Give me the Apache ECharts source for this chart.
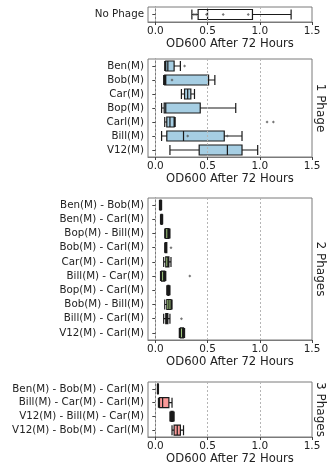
<!DOCTYPE html>
<html>
<head>
  <meta charset="UTF-8">
  <title>OD600 After 72 Hours</title>
  <script type="text/javascript" src="https://cdn.jsdelivr.net/npm/echarts@6/dist/echarts.min.js"></script>
  <style>
    html, body { margin: 0; padding: 0; background: #fff; }
  </style>
</head>
<body>
  <div id="main" style="width:327px;height:468px;"></div>
  <script>
    // values: [min, Q1, median, Q3, max]
    var xTicks = [0, 0.5, 1.0, 1.5];

    var noPhageCats = ['No Phage'];
    var noPhageBox = [[0.35, 0.41, 0.50, 0.93, 1.30]];
    var noPhagePts = [[0.37, 'No Phage'], [0.39, 'No Phage'], [0.49, 'No Phage'], [0.65, 'No Phage'], [0.89, 'No Phage']];

    var onePhageCats = ['Ben(M)', 'Bob(M)', 'Car(M)', 'Bop(M)', 'Carl(M)', 'Bill(M)', 'V12(M)'];
    var onePhageBox = [
      [0.09, 0.10, 0.12, 0.18, 0.24],
      [0.08, 0.09, 0.10, 0.51, 0.57],
      [0.25, 0.28, 0.31, 0.34, 0.375],
      [0.06, 0.085, 0.10, 0.43, 0.77],
      [0.09, 0.11, 0.14, 0.18, 0.19],
      [0.06, 0.11, 0.27, 0.66, 0.83],
      [0.14, 0.42, 0.69, 0.83, 0.98]
    ];
    var onePhageOut = [[0.28, 'Ben(M)'], [1.07, 'Carl(M)'], [1.13, 'Carl(M)']];
    var onePhagePts = [[0.16, 'Bob(M)'], [0.31, 'Bill(M)'], [0.69, 'Bill(M)']];

    var twoPhageCats = ['Ben(M) - Bob(M)', 'Ben(M) - Carl(M)', 'Bop(M) - Bill(M)', 'Bob(M) - Carl(M)',
      'Car(M) - Carl(M)', 'Bill(M) - Car(M)', 'Bop(M) - Carl(M)', 'Bob(M) - Bill(M)',
      'Bill(M) - Carl(M)', 'V12(M) - Carl(M)'];
    var twoPhageBox = [
      [0.04, 0.045, 0.05, 0.055, 0.06],
      [0.05, 0.055, 0.06, 0.065, 0.07],
      [0.09, 0.10, 0.12, 0.13, 0.14],
      [0.09, 0.095, 0.10, 0.11, 0.11],
      [0.08, 0.10, 0.12, 0.13, 0.15],
      [0.05, 0.06, 0.08, 0.09, 0.10],
      [0.11, 0.12, 0.125, 0.13, 0.14],
      [0.09, 0.11, 0.13, 0.15, 0.16],
      [0.08, 0.10, 0.11, 0.12, 0.14],
      [0.23, 0.24, 0.26, 0.27, 0.28]
    ];
    var twoPhageOut = [[0.15, 'Bob(M) - Carl(M)'], [0.33, 'Bill(M) - Car(M)'], [0.25, 'Bill(M) - Carl(M)']];

    var threePhageCats = ['Ben(M) - Bob(M) - Carl(M)', 'Bill(M) - Car(M) - Carl(M)',
      'V12(M) - Bill(M) - Car(M)', 'V12(M) - Bob(M) - Carl(M)'];
    var threePhageBox = [
      [0.02, 0.022, 0.025, 0.028, 0.03],
      [0.03, 0.04, 0.07, 0.13, 0.16],
      [0.14, 0.15, 0.16, 0.17, 0.18],
      [0.16, 0.18, 0.21, 0.24, 0.27]
    ];

    var panelLabels = ['1 Phage', '2 Phages', '3 Phages'];

    var font = 'DejaVu Sans';
    var grids = [
      { left: 148, right: 15, top: 7, height: 15 },
      { left: 148, right: 15, top: 59, height: 98 },
      { left: 148, right: 15, top: 198, height: 142 },
      { left: 148, right: 15, top: 382, height: 55 }
    ];
    grids.forEach(function (g) {
      g.show = true;
      g.borderColor = '#7a7a7a';
      g.borderWidth = 1;
      g.containLabel = false;
    });

    function xAxisFor(i) {
      return {
        type: 'value', gridIndex: i, min: -0.07, max: 1.5,
        name: 'OD600 After 72 Hours', nameLocation: 'middle', nameGap: 16,
        nameTextStyle: { fontFamily: font, fontSize: 11.6, color: '#222' },
        axisLine: { show: true, lineStyle: { color: '#7a7a7a' } },
        axisTick: { show: true, length: 3, customValues: xTicks, lineStyle: { color: '#444' } },
        axisLabel: {
          customValues: xTicks, margin: 4, fontFamily: font, fontSize: 10.5, color: '#222',
          formatter: function (v) { return v.toFixed(1); }
        },
        splitLine: { show: false }
      };
    }
    function yAxisFor(i, cats) {
      return {
        type: 'category', gridIndex: i, data: cats, inverse: true,
        axisLine: { show: true, lineStyle: { color: '#7a7a7a' } },
        axisTick: { show: true, length: 3, alignWithLabel: true, lineStyle: { color: '#444' } },
        axisLabel: { margin: 4, fontFamily: font, fontSize: 10.3, color: '#222', interval: 0 },
        splitLine: { show: false }
      };
    }

    function gridLines(i) {
      return {
        type: 'line', xAxisIndex: i, yAxisIndex: i, data: [], silent: true,
        markLine: {
          silent: true, symbol: 'none', label: { show: false },
          lineStyle: { color: '#b5b5b5', type: [2, 2], width: 1 },
          data: [{ xAxis: 0 }, { xAxis: 0.5 }, { xAxis: 1.0 }]
        }
      };
    }
    function boxSeries(i, data, fill) {
      return {
        type: 'boxplot', xAxisIndex: i, yAxisIndex: i, data: data, boxWidth: [10, 10],
        itemStyle: { color: fill, borderColor: '#1a1a1a', borderWidth: 1.2 }
      };
    }
    function dots(i, data, size) {
      return {
        type: 'scatter', xAxisIndex: i, yAxisIndex: i, data: data, symbol: 'diamond',
        symbolSize: size, itemStyle: { color: '#555' }, z: 5
      };
    }

    var graphic = panelLabels.map(function (t, k) {
      var g = grids[k + 1];
      return {
        type: 'text', x: 320, y: g.top + g.height / 2, rotation: -Math.PI / 2,
        style: { text: t, fontFamily: font, fontSize: 12, fill: '#222', align: 'center', verticalAlign: 'middle' }
      };
    });

    var myChart = echarts.init(document.getElementById('main'));
    var option = {
      animation: false,
      grid: grids,
      xAxis: [xAxisFor(0), xAxisFor(1), xAxisFor(2), xAxisFor(3)],
      yAxis: [yAxisFor(0, noPhageCats), yAxisFor(1, onePhageCats), yAxisFor(2, twoPhageCats), yAxisFor(3, threePhageCats)],
      graphic: graphic,
      series: [
        gridLines(0), gridLines(1), gridLines(2), gridLines(3),
        boxSeries(0, noPhageBox, '#ffffff'),
        boxSeries(1, onePhageBox, '#a6cee3'),
        boxSeries(2, twoPhageBox, '#b2df8a'),
        boxSeries(3, threePhageBox, '#fb9a99'),
        dots(0, noPhagePts, 3),
        dots(1, onePhageOut, 3),
        dots(1, onePhagePts, 3),
        dots(2, twoPhageOut, 3)
      ]
    };
    myChart.setOption(option);
  </script>
</body>
</html>
